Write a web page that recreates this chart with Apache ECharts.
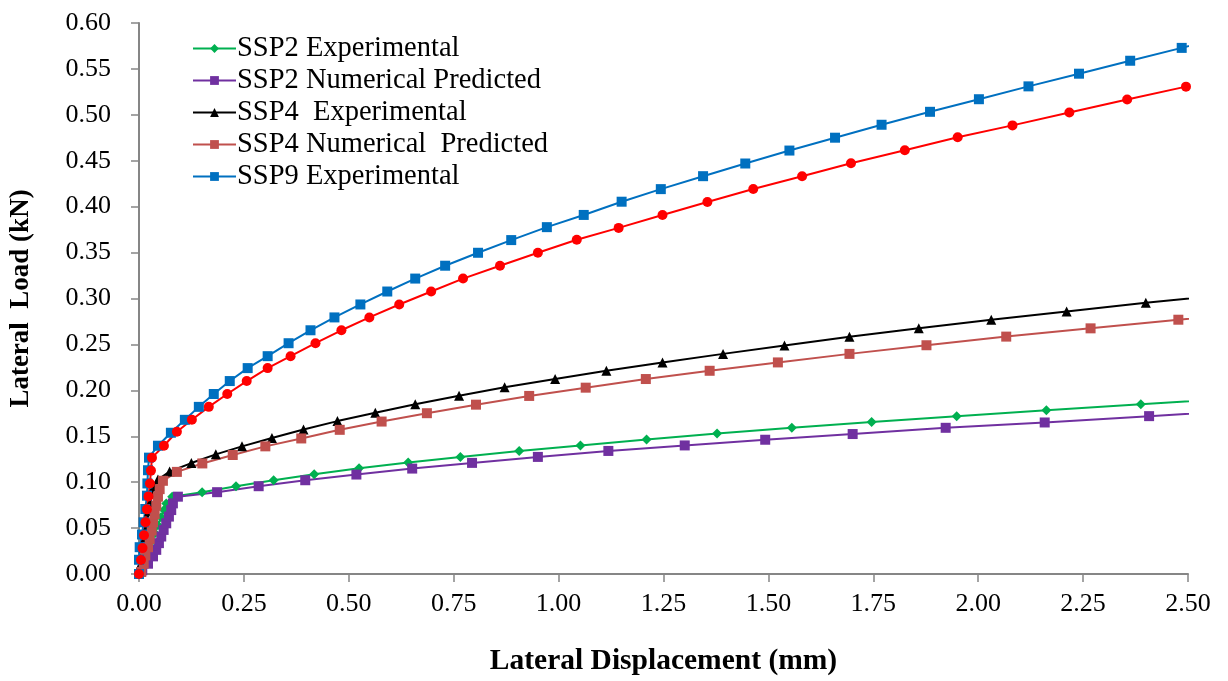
<!DOCTYPE html>
<html>
<head>
<meta charset="utf-8">
<script src="https://cdn.jsdelivr.net/npm/echarts@6/dist/echarts.min.js"></script>
<style>
  html, body { margin: 0; padding: 0; background: #fff; }
  #chart { width: 1228px; height: 681px; }
</style>
</head>
<body>
<div id="chart"></div>
<script>
// ---- Data (lateral displacement mm, lateral load kN) ----
const seriesNames = [
  'SSP2 Experimental',
  'SSP2 Numerical Predicted',
  'SSP4  Experimental',
  'SSP4 Numerical  Predicted',
  'SSP9 Experimental',
  'SSP9 Numerical Predicted'
];

const ssp2Exp = [
  [0, 0], [0.0095, 0.0087], [0.0166, 0.0173], [0.0238, 0.0271], [0.0309, 0.0357],
  [0.038, 0.0444], [0.0452, 0.0531], [0.0523, 0.0617], [0.0594, 0.0696], [0.0649, 0.0769],
  [0.0791, 0.0842], [0.1504, 0.0891], [0.2312, 0.0956], [0.3208, 0.1021], [0.4175, 0.1086],
  [0.5245, 0.1151], [0.6416, 0.1213], [0.7659, 0.1275], [0.9061, 0.134], [1.052, 0.14],
  [1.2096, 0.1465], [1.3776, 0.153], [1.5558, 0.1592], [1.746, 0.1654], [1.9487, 0.1719],
  [2.1625, 0.1784], [2.3876, 0.1849], [2.626, 0.1917]
];

const ssp2Num = [
  [0, 0], [0.0078, 0.004], [0.0214, 0.0112], [0.0333, 0.0192], [0.0411, 0.0263],
  [0.0475, 0.0336], [0.053, 0.0408], [0.0587, 0.048], [0.0649, 0.0552], [0.0713, 0.0625],
  [0.0768, 0.0696], [0.0808, 0.0769], [0.0927, 0.0842], [0.1861, 0.0891], [0.2852, 0.0956],
  [0.3962, 0.1021], [0.5181, 0.1083], [0.6511, 0.1148], [0.7937, 0.121], [0.9506, 0.1275],
  [1.1186, 0.134], [1.3006, 0.14], [1.4924, 0.1462], [1.7008, 0.1524], [1.9225, 0.1592],
  [2.1585, 0.165], [2.4073, 0.1719], [2.669, 0.1787]
];

const ssp4Exp = [
  [0, 0], [0.0036, 0.0097], [0.0071, 0.0195], [0.0107, 0.0292], [0.0143, 0.039],
  [0.0166, 0.0487], [0.0202, 0.0585], [0.0238, 0.0682], [0.0273, 0.078], [0.0309, 0.0877],
  [0.0356, 0.0953], [0.0452, 0.1029], [0.073, 0.1116], [0.1248, 0.1208], [0.183, 0.1303],
  [0.2455, 0.139], [0.3168, 0.1481], [0.3921, 0.1574], [0.4729, 0.1665], [0.5632, 0.1755],
  [0.6583, 0.1849], [0.7628, 0.1942], [0.8714, 0.2033], [0.9917, 0.2123], [1.1138, 0.2213],
  [1.2476, 0.2304], [1.3919, 0.2397], [1.5383, 0.2488], [1.6932, 0.2583], [1.8584, 0.2675],
  [2.0311, 0.2769], [2.2108, 0.2859], [2.3995, 0.2954], [2.602, 0.3043]
];

const ssp4Num = [
  [0, 0], [0.0055, 0.0022], [0.0112, 0.0112], [0.015, 0.0203], [0.0214, 0.0292],
  [0.0254, 0.0382], [0.0302, 0.0473], [0.0333, 0.0563], [0.0373, 0.0653], [0.0411, 0.0744],
  [0.0452, 0.0842], [0.0492, 0.0924], [0.057, 0.1015], [0.0903, 0.1112], [0.1509, 0.1204],
  [0.2234, 0.1296], [0.3011, 0.139], [0.3867, 0.1476], [0.4784, 0.157], [0.5782, 0.166],
  [0.6861, 0.1751], [0.8032, 0.1844], [0.9299, 0.1939], [1.0646, 0.2029], [1.2079, 0.2123],
  [1.36, 0.2213], [1.5226, 0.2304], [1.6932, 0.2397], [1.8767, 0.2491], [2.0668, 0.2585],
  [2.2678, 0.2675], [2.477, 0.2769], [2.697, 0.2865]
];

const ssp9Exp = [
  [0, 0], [0, 0.0155], [0.0016, 0.0292], [0.0071, 0.043], [0.011, 0.0563],
  [0.015, 0.0708], [0.019, 0.0853], [0.020, 0.0986], [0.0214, 0.113], [0.0238, 0.1267],
  [0.0452, 0.1397], [0.076, 0.1538], [0.1093, 0.1679], [0.1426, 0.182], [0.1782, 0.196],
  [0.2163, 0.2101], [0.259, 0.2242], [0.3066, 0.2372], [0.3565, 0.2513], [0.4087, 0.2654],
  [0.4658, 0.2794], [0.5276, 0.2935], [0.5917, 0.3076], [0.6583, 0.3217], [0.7296, 0.3357],
  [0.808, 0.3498], [0.8871, 0.3636], [0.972, 0.3777], [1.0599, 0.391], [1.1502, 0.4054],
  [1.2436, 0.4191], [1.3443, 0.4332], [1.4449, 0.447], [1.5501, 0.4611], [1.6588, 0.4751],
  [1.7697, 0.4892], [1.8852, 0.5033], [2.0017, 0.517], [2.1198, 0.531], [2.2402, 0.5448],
  [2.3622, 0.5589], [2.485, 0.5729], [2.609, 0.587]
];

const ssp9Num = [
  [0, 0], [0.0048, 0.0152], [0.0083, 0.0282], [0.0119, 0.0422], [0.0154, 0.0563],
  [0.019, 0.0704], [0.0226, 0.0845], [0.0261, 0.0986], [0.0285, 0.1126], [0.0309, 0.1267],
  [0.0594, 0.1397], [0.0903, 0.1549], [0.126, 0.1679], [0.1663, 0.182], [0.2103, 0.196],
  [0.2567, 0.2101], [0.3066, 0.2242], [0.3612, 0.2372], [0.4206, 0.2513], [0.4824, 0.2654],
  [0.549, 0.2794], [0.6202, 0.2935], [0.6963, 0.3076], [0.7723, 0.3217], [0.8603, 0.3357],
  [0.9506, 0.3498], [1.0433, 0.3639], [1.1431, 0.3769], [1.2476, 0.391], [1.3546, 0.4051],
  [1.4639, 0.4192], [1.5803, 0.4332], [1.6968, 0.4473], [1.8251, 0.4614], [1.9511, 0.4755],
  [2.0817, 0.4885], [2.2172, 0.5025], [2.355, 0.5166], [2.4952, 0.5307], [2.638, 0.5448]
];

const xTickLabels = ['0.00','0.25','0.50','0.75','1.00','1.25','1.50','1.75','2.00','2.25','2.50'];
const yTickLabels = ['0.00','0.05','0.10','0.15','0.20','0.25','0.30','0.35','0.40','0.45','0.50','0.55','0.60'];

const serif = '"Liberation Serif", "Times New Roman", serif';
const axisGray = '#868686';

const styles = [
  { color: '#00B050', symbol: 'diamond', size: 10 },
  { color: '#7030A0', symbol: 'rect', size: 10 },
  { color: '#000000', symbol: 'triangle', size: 10 },
  { color: '#C0504D', symbol: 'rect', size: 10 },
  { color: '#0070C0', symbol: 'rect', size: 10 },
  { color: '#FF0000', symbol: 'circle', size: 10 }
];
const allData = [ssp2Exp, ssp2Num, ssp4Exp, ssp4Num, ssp9Exp, ssp9Num];

const chart = echarts.init(document.getElementById('chart'));
chart.setOption({
  animation: false,
  backgroundColor: '#ffffff',
  grid: { left: 136, right: 40, top: 23, bottom: 104, containLabel: false },
  legend: {
    data: seriesNames.slice(0, 5),
    orient: 'vertical',
    left: 187,
    top: 29,
    itemWidth: 43,
    itemHeight: 11,
    itemGap: 3,
    textStyle: { fontFamily: serif, fontSize: 28.5, color: '#000', lineHeight: 28.3, padding: [0, 0, 0, -4] }
  },
  xAxis: {
    type: 'value',
    min: 0, max: 2.5, interval: 0.25,
    name: 'Lateral Displacement (mm)',
    nameLocation: 'middle',
    nameGap: 72,
    nameTextStyle: { fontFamily: serif, fontSize: 29.5, fontWeight: 'bold', color: '#000' },
    axisLine: { show: true, lineStyle: { color: axisGray, width: 2 } },
    axisTick: { show: true, inside: false, length: 8, lineStyle: { color: axisGray, width: 1.5 } },
    axisLabel: {
      fontFamily: serif, fontSize: 26, color: '#000', margin: 17,
      formatter: v => xTickLabels[Math.round(v / 0.25)]
    },
    splitLine: { show: false }
  },
  yAxis: {
    type: 'value',
    min: 0, max: 0.6, interval: 0.05,
    name: 'Lateral  Load (kN)',
    nameLocation: 'middle',
    nameGap: 104,
    nameTextStyle: { fontFamily: serif, fontSize: 27, fontWeight: 'bold', color: '#000' },
    axisLine: { show: true, lineStyle: { color: axisGray, width: 2 } },
    axisTick: { show: true, inside: false, length: 8, lineStyle: { color: axisGray, width: 1.5 } },
    axisLabel: {
      fontFamily: serif, fontSize: 26, color: '#000', margin: 28,
      formatter: v => yTickLabels[Math.round(v / 0.05)]
    },
    splitLine: { show: false }
  },
  series: allData.map((d, i) => ({
    name: seriesNames[i],
    type: 'line',
    data: d,
    clip: true,
    symbol: styles[i].symbol,
    symbolSize: styles[i].size,
    showAllSymbol: true,
    lineStyle: { color: styles[i].color, width: 2 },
    itemStyle: { color: styles[i].color },
    emphasis: { disabled: true }
  }))
});
</script>
</body>
</html>
